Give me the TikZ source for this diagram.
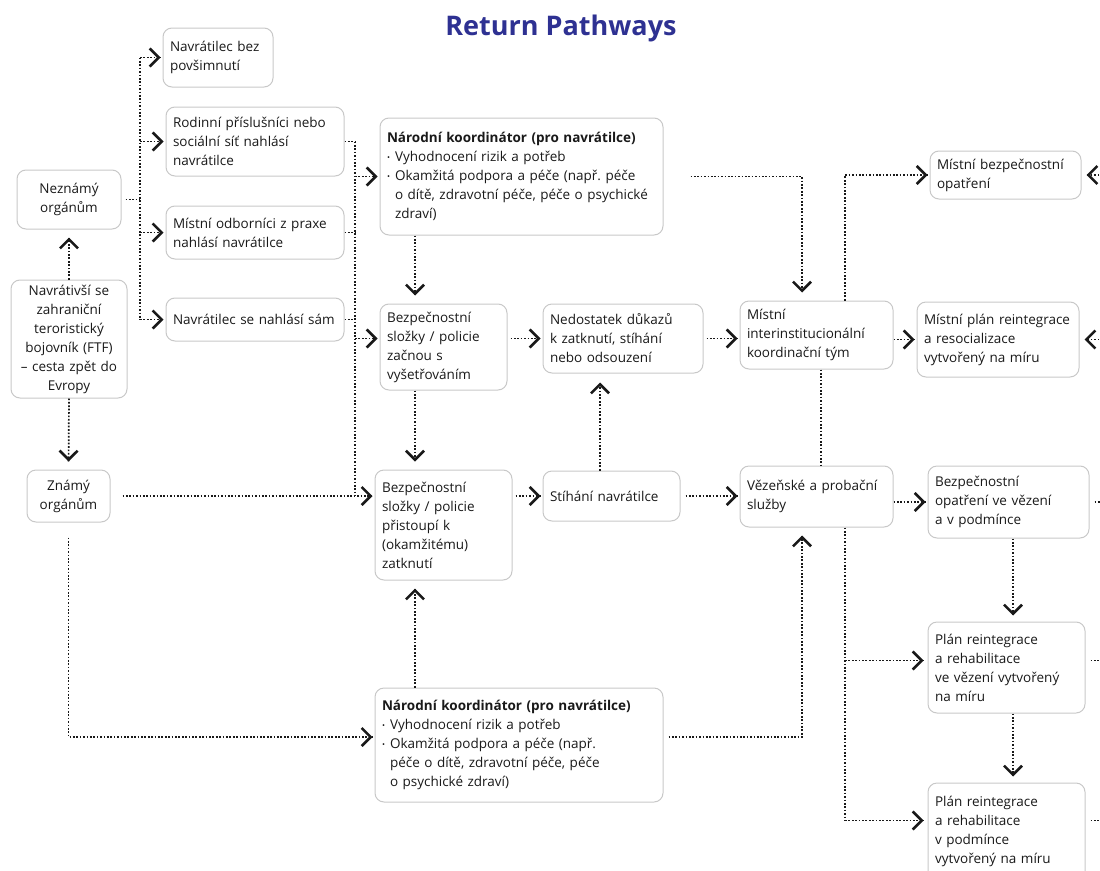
\documentclass[tikz,border=0pt]{standalone}
\usepackage{fontspec}
\setmainfont{Open Sans}
\usetikzlibrary{arrows.meta,decorations.markings}
\definecolor{boxgray}{RGB}{200,200,200}
\definecolor{titleblue}{RGB}{46,49,146}
\definecolor{ink}{RGB}{25,25,25}
\newcommand{\itemdot}{{\fontsize{8}{8}\selectfont\raisebox{1.5pt}{•}}\hspace{5pt}}
\frenchspacing

\begin{document}
\begin{tikzpicture}[x=1pt,y=-1pt,
  box/.style={rectangle,rounded corners=9pt,draw=boxgray,line width=1pt,align=left,inner xsep=7pt,inner ysep=3pt,text=ink,font={\fontsize{13.5}{19}\selectfont}},
  cbox/.style={box,align=center},
  link/.style={ink,line width=1.7pt,dash pattern=on 1.7pt off 1.7pt},
  arr/.style={link,shorten >=#1,postaction={decorate,decoration={markings,mark=at position -#1 with {\pgfsetdash{}{0pt}\arrow{Straight Barb[length=9pt,width=18pt,line width=2.6pt]}}}}},
  arr/.default=2pt]
\useasboundingbox (0,0) rectangle (1100,870);
\node at (561,28) (title) [font={\fontsize{27}{30}\selectfont\bfseries},text=titleblue] {Return Pathways};
\node at (218,57.5) (nobody) [box,text width=96pt,minimum height=59pt] {Navrátilec bez\\povšimnutí};
\node at (255,141.5) (family) [box,text width=164pt,minimum height=69pt] {Rodinní příslušníci nebo\\sociální síť nahlásí\\navrátilce};
\node at (69,199.5) (unknown) [cbox,text width=90pt,minimum height=59pt] {Neznámý\\orgánům};
\node at (255,232.5) (experts) [box,text width=164pt,minimum height=53pt] {Místní odborníci z praxe\\nahlásí navrátilce};
\node at (255,319.5) (self) [box,text width=164pt,minimum height=43pt] {Navrátilec se nahlásí sám};
\node at (69,339) (ftf) [cbox,text width=102pt,minimum height=118pt] {Navrátivší se\\zahraniční\\teroristický\\bojovník (FTF)\\– cesta zpět do\\Evropy};
\node at (68.5,496) (known) [cbox,text width=69pt,minimum height=52pt] {Známý\\orgánům};
\node at (521.5,176.5) (natTop) [box,text width=269pt,minimum height=117pt] {\textbf{Národní koordinátor (pro navrátilce)}\\\itemdot Vyhodnocení rizik a potřeb\\\itemdot Okamžitá podpora a péče (např. péče\\\phantom{\itemdot}o dítě, zdravotní péče, péče o psychické\\\phantom{\itemdot}zdraví)};
\node at (443.5,347) (invest) [box,text width=113pt,minimum height=86pt] {Bezpečnostní\\složky / policie\\začnou s\\vyšetřováním};
\node at (623,338.5) (lack) [box,text width=146pt,minimum height=69pt] {Nedostatek důkazů\\k zatknutí, stíhání\\nebo odsouzení};
\node at (816.5,335) (team) [box,text width=139pt,minimum height=68pt] {Místní\\interinstitucionální\\koordinační tým};
\node at (1005.5,175) (localSec) [box,text width=137pt,minimum height=48pt] {Místní bezpečnostní\\opatření};
\node at (998,339.5) (localPlan) [box,text width=148pt,minimum height=75pt] {Místní plán reintegrace\\a resocializace\\vytvořený na míru};
\node at (443.5,525) (arrest) [box,text width=123pt,minimum height=110pt] {Bezpečnostní\\složky / policie\\přistoupí k\\(okamžitému)\\zatknutí};
\node at (611.5,496) (prosec) [box,text width=123pt,minimum height=50pt] {Stíhání navrátilce};
\node at (816.5,496.5) (prison) [box,text width=139pt,minimum height=61pt] {Vězeňské a probační\\služby};
\node at (1008.5,502) (prisonSec) [box,text width=147pt,minimum height=72pt] {Bezpečnostní\\opatření ve vězení\\a v podmínce};
\node at (1006.5,667.5) (planPrison) [box,text width=143pt,minimum height=91pt] {Plán reintegrace\\a rehabilitace\\ve vězení vytvořený\\na míru};
\node at (1006.5,831.5) (planProb) [box,text width=143pt,minimum height=97pt] {Plán reintegrace\\a rehabilitace\\v podmínce\\vytvořený na míru};
\node at (519,745) (natBot) [box,text width=274pt,minimum height=114pt] {\textbf{Národní koordinátor (pro navrátilce)}\\\itemdot Vyhodnocení rizik a potřeb\\\itemdot Okamžitá podpora a péče (např.\\\phantom{\itemdot}péče o dítě, zdravotní péče, péče\\\phantom{\itemdot}o psychické zdraví)};
\coordinate (busL) at (140,0);
\coordinate (busR) at (355,0);
\coordinate (colA) at (415,0);
\coordinate (colB) at (600,0);
\coordinate (colC) at (802,0);
\coordinate (colD) at (845,0);
\coordinate (colE) at (821,0);
\coordinate (colF) at (1013,0);
\coordinate (rowB) at (0,737);
\coordinate (edge) at (1106,0);
\coordinate (inPP) at ([yshift=7pt]planPrison.west);
\coordinate (inPB) at ([yshift=11pt]planProb.west);
\draw [link,shorten <=4pt] (unknown.east) -- (unknown.east -| busL);
\draw [link] (nobody.west -| busL) -- (self.west -| busL);
\draw [arr] (nobody.west -| busL) -- (nobody.west);
\draw [arr] (family.west -| busL) -- (family.west);
\draw [arr] (experts.west -| busL) -- (experts.west);
\draw [arr] (self.west -| busL) -- (self.west);
\draw [arr=8pt] (ftf.north) -- (unknown.south);
\draw [arr=8pt] (ftf.south) -- (known.north);
\draw [link] (family.east) -- (family.east -| busR);
\draw [link] (experts.east) -- (experts.east -| busR);
\draw [link] (self.east) -- (self.east -| busR);
\draw [link] (family.east -| busR) -- (known.east -| busR);
\draw [arr] (natTop.west -| busR) -- (natTop.west);
\draw [arr] (lack.west -| busR) -- (lack.west -| invest.west);
\draw [arr,shorten <=12pt] (known.east) -- (known.east -| arrest.west);
\draw [arr,shorten <=15pt] (known.south) |- (natBot.west |- rowB);
\draw [arr=8pt] (natTop.south -| colA) -- (invest.north -| colA);
\draw [arr=8pt] (invest.south -| colA) -- (arrest.north -| colA);
\draw [arr=8pt] (natBot.north -| colA) -- (arrest.south -| colA);
\draw [arr,shorten <=3pt] (invest.east |- lack.west) -- (lack.west);
\draw [arr,shorten <=3pt] (arrest.east |- prosec.west) -- (prosec.west);
\draw [arr=9pt] (prosec.north -| colB) -- (lack.south -| colB);
\draw [arr,shorten <=3pt] (lack.east) -- (lack.east -| team.west);
\draw [arr,shorten <=5pt] (prosec.east) -- (prosec.east -| prison.west);
\draw [arr=8pt,shorten <=27pt] (natTop.east) -| (team.north -| colC);
\draw [arr] (team.north -| colD) |- (localSec.west);
\draw [arr] (team.east |- localPlan.west) -- (localPlan.west);
\draw [link] (team.south -| colE) -- (prison.north -| colE);
\draw [arr=8pt,shorten <=5pt] (natBot.east |- rowB) -| (prison.south -| colC);
\draw [arr] (prison.east |- prisonSec.west) -- (prisonSec.west);
\draw [arr=6pt] (prisonSec.south -| colF) -- (planPrison.north -| colF);
\draw [arr=6pt] (planPrison.south -| colF) -- (planProb.north -| colF);
\draw [link] (prison.south -| colD) -- (inPB -| colD);
\draw [arr=4pt] (inPP -| colD) -- (inPP);
\draw [arr=4pt] (inPB -| colD) -- (inPB);
\draw [arr=5pt] (localSec.east -| edge) -- (localSec.east);
\draw [arr=5pt] (localPlan.east -| edge) -- (localPlan.east);
\draw [link,shorten <=5pt] (prisonSec.east) -- (prisonSec.east -| edge);
\draw [link,shorten <=5pt] (inPP -| planPrison.east) -- (inPP -| edge);
\draw [link,shorten <=5pt] (inPB -| planProb.east) -- (inPB -| edge);
\end{tikzpicture}
\end{document}
